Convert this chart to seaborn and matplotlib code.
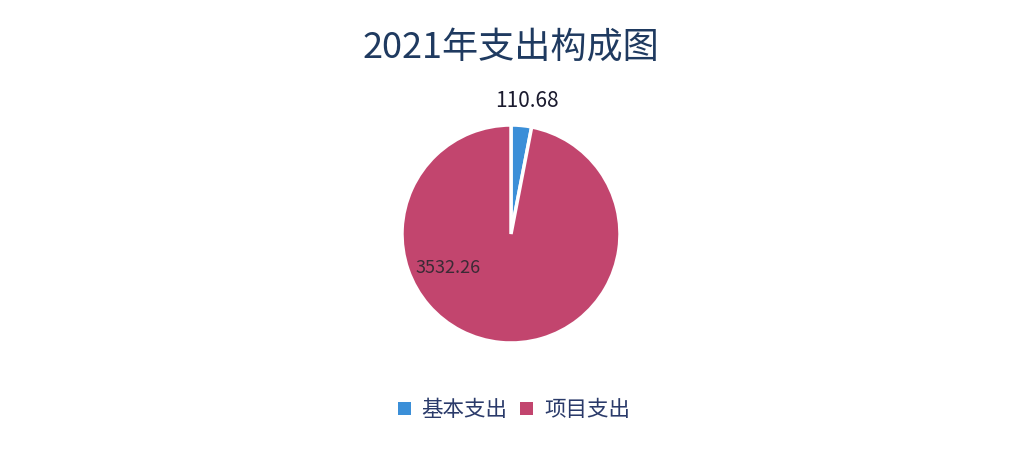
import matplotlib
matplotlib.use("Agg")
import matplotlib.pyplot as plt
import seaborn as sns
from matplotlib.patches import Patch

categories = ["基本支出", "项目支出"]
values = [110.68, 3532.26]
value_labels = ["110.68", "3532.26"]
colors = ["#3b8fd8", "#c2456e"]
title = "2021年支出构成图"

sns.set_theme(style="white")
plt.rcParams['font.family'] = ['Noto Sans CJK SC', 'DejaVu Sans']

fig = plt.figure(figsize=(10.11, 4.5), dpi=100)
fig.patch.set_facecolor("white")
R = 109
cx, cy = 511, 450 - 234
ax = fig.add_axes([(cx - R) / 1011, (cy - R) / 450, 2 * R / 1011, 2 * R / 450])
wedges, _ = ax.pie(values, colors=colors, startangle=90, counterclock=False,
                   radius=1.0, wedgeprops=dict(edgecolor="white", linewidth=2.5))
ax.set_xlim(-1, 1)
ax.set_ylim(-1, 1)
ax.set_aspect("equal")
ax.axis("off")

ax.text(0.15, 1.22, value_labels[0], ha="center", va="center", fontsize=15, color="#1a1a2e")
ax.text(-0.58, -0.31, value_labels[1], ha="center", va="center", fontsize=13, color="#3a2a35")

fig.text(511 / 1011, 1 - 48 / 450, title, ha="center", va="center", fontsize=26, color="#1f3a60")

handles = [Patch(facecolor=c, edgecolor="none") for c in colors]
fig.legend(handles, categories, loc="center", bbox_to_anchor=(514 / 1011, 1 - 410 / 450),
           ncol=2, frameon=False, fontsize=15.5, handlelength=0.6, handleheight=0.6,
           columnspacing=0.6, handletextpad=0.5, labelcolor="#2a3a6a")

fig.savefig("out.png", dpi=100, facecolor="white")
